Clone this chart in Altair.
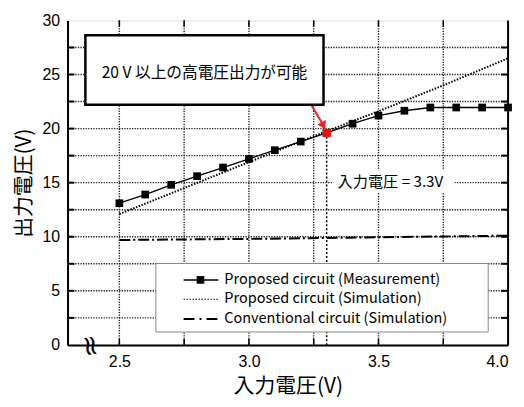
import altair as alt
import pandas as pd

# ---- data ----
vin_meas = [2.5, 2.6, 2.7, 2.8, 2.9, 3.0, 3.1, 3.2, 3.3, 3.4, 3.5, 3.6, 3.7, 3.8, 3.9, 4.0]
vout_meas = [13.1, 13.9, 14.8, 15.6, 16.4, 17.2, 18.0, 18.8, 19.6, 20.45, 21.2, 21.65, 21.95, 21.95, 21.95, 21.95]
vin_sim = [2.5, 2.75, 3.0, 3.25, 3.5, 3.75, 4.0]
vout_sim = [12.1, 14.5, 16.9, 19.3, 21.6, 24.0, 26.5]
vin_conv = [2.5, 3.0, 3.5, 4.0]
vout_conv = [9.7, 9.8, 9.95, 10.1]
x_ticks = [2.5, 2.75, 3.0, 3.25, 3.5, 3.75, 4.0]
y_ticks = [0, 2.5, 5, 7.5, 10, 12.5, 15, 17.5, 20, 22.5, 25, 27.5, 30]
legend_labels = ["Proposed circuit (Measurement)", "Proposed circuit (Simulation)",
                 "Conventional circuit (Simulation)"]
callout_text = "20 V 以上の高電圧出力が可能"
vline_label = "入力電圧 = 3.3V"
highlight = (3.3, 19.6)

W, H = 444, 327
JP = "Noto Sans CJK JP"
LAT = "Liberation Sans"
X0, X1, Y0, Y1 = 2.3, 4.0, 0, 30

xs = alt.Scale(domain=[X0, X1], nice=False, zero=False)
ys = alt.Scale(domain=[Y0, Y1], nice=False, zero=False)

xaxis = alt.Axis(values=x_ticks, labelExpr="datum.value % 0.5 == 0 ? format(datum.value, '.1f') : ''",
                 title="入力電圧(V)", grid=False, ticks=False, domainColor="black", domainWidth=2,
                 labelFont=LAT, labelFontSize=16, labelColor="black", labelPadding=9,
                 titleFont=JP, titleFontSize=21, titleFontWeight="normal", titleColor="black",
                 titlePadding=6)
yaxis = alt.Axis(values=y_ticks, labelExpr="datum.value % 5 == 0 ? datum.value : ''",
                 title="出力電圧(V)", grid=False, ticks=False, domainColor="black", domainWidth=2,
                 labelFont=LAT, labelFontSize=16, labelColor="black", labelPadding=8,
                 titleFont=JP, titleFontSize=21, titleFontWeight="normal", titleColor="black",
                 titlePadding=8)


def X(f="x:Q"):
    return alt.X(f, scale=xs, axis=xaxis)


def Y(f="y:Q"):
    return alt.Y(f, scale=ys, axis=yaxis)


meas = pd.DataFrame({"x": vin_meas, "y": vout_meas})
sim = pd.DataFrame({"x": vin_sim, "y": vout_sim})
conv = pd.DataFrame({"x": vin_conv, "y": vout_conv})
one = pd.DataFrame({"a": [0]})

base_axes = alt.Chart(pd.DataFrame({"x": [X0], "y": [Y0]})).mark_point(opacity=0).encode(x=X(), y=Y())

# dotted grid from the tick lists
gx_vals = x_ticks[:-1]
gy_vals = y_ticks[1:-1]
tx = pd.DataFrame({"x": gx_vals})
ty = pd.DataFrame({"y": gy_vals})
grid_x = alt.Chart(tx).mark_rule(color="#222", strokeWidth=1.4, strokeDash=[1.3, 1.3]).encode(
    x=X(), y=alt.value(0), y2=alt.value(H))
grid_y = alt.Chart(ty).mark_rule(color="#222", strokeWidth=1.4, strokeDash=[1.3, 1.3]).encode(
    y=Y(), x=alt.value(0), x2=alt.value(W))

# inward ticks
ticks = alt.layer(
    alt.Chart(tx).mark_rule(color="black", strokeWidth=1.5).encode(x=X(), y=alt.value(0), y2=alt.value(6)),
    alt.Chart(tx).mark_rule(color="black", strokeWidth=1.5).encode(x=X(), y=alt.value(H - 6), y2=alt.value(H)),
    alt.Chart(ty).mark_rule(color="black", strokeWidth=2).encode(y=Y(), x=alt.value(0), x2=alt.value(7)),
    alt.Chart(ty).mark_rule(color="black", strokeWidth=2).encode(y=Y(), x=alt.value(W - 7), x2=alt.value(W)),
)
right_border = alt.Chart(pd.DataFrame({"x": [X1]})).mark_rule(color="black", strokeWidth=2).encode(
    x=X(), y=alt.value(0), y2=alt.value(H))

# series
sim_line = alt.Chart(sim).mark_line(color="black", strokeWidth=2, strokeDash=[1.5, 1.5]).encode(x=X(), y=Y())
conv_line = alt.Chart(conv).mark_line(color="black", strokeWidth=2, strokeDash=[11, 3, 2, 3]).encode(x=X(), y=Y())
meas_line = alt.Chart(meas).mark_line(color="black", strokeWidth=1.3).encode(x=X(), y=Y())
meas_pts = alt.Chart(meas).mark_point(shape="square", filled=True, color="black", size=60, opacity=1).encode(
    x=X(), y=Y())

hl = pd.DataFrame({"x": [highlight[0]], "y": [highlight[1]]})
vline = alt.Chart(hl).mark_rule(color="black", strokeWidth=1.5, strokeDash=[2, 2]).encode(
    x=X(), y=Y(), y2=alt.datum(0))
red_pt = alt.Chart(hl).mark_point(shape="square", filled=True, color="#ee1111", size=70, opacity=1).encode(
    x=X(), y=Y())

# arrow
arrow = alt.Chart(pd.DataFrame({"x": [3.24], "y": [22.2], "x2": [3.285], "y2": [20.4]})).mark_rule(
    color="#ee2222", strokeWidth=2).encode(x=X(), y=Y(), x2="x2:Q", y2="y2:Q")
arrow_head = alt.Chart(pd.DataFrame({"x": [3.288], "y": [20.25]})).mark_point(
    shape="triangle-down", filled=True, color="#ee2222", size=90, angle=331, opacity=1).encode(x=X(), y=Y())

# callout box
callout_box = alt.Chart(one).mark_rect(fill="white", stroke="black", strokeWidth=2.5).encode(
    x=alt.value(18), x2=alt.value(258), y=alt.value(15), y2=alt.value(85))
callout = alt.Chart(pd.DataFrame({"t": [callout_text]})).mark_text(
    font=JP, fontSize=15.8, color="black", align="center", baseline="middle").encode(
    x=alt.value(138), y=alt.value(53), text="t:N")

# vline label
lbl_bg = alt.Chart(one).mark_rect(fill="white").encode(
    x=alt.value(268), x2=alt.value(390), y=alt.value(151), y2=alt.value(173))
lbl = alt.Chart(pd.DataFrame({"x": [3.342], "y": [15.1], "t": [vline_label]})).mark_text(
    font=JP, fontSize=15.3, color="black", align="left", baseline="middle").encode(
    x=X(), y=Y(), text="t:N")

# axis break mark
brk = alt.Chart(pd.DataFrame({"x": [2.385], "y": [-0.1], "t": ["≈"]})).mark_text(
    font="DejaVu Sans", fontSize=28, fontWeight="normal", color="black", angle=80,
    align="center", baseline="middle").encode(x=X(), y=Y(), text="t:N")

# manual legend
leg_box = alt.Chart(one).mark_rect(fill="white", stroke="#888", strokeWidth=1).encode(
    x=alt.value(89), x2=alt.value(424), y=alt.value(245), y2=alt.value(314))
rows_y = [261.5, 281, 301]
leg_l1 = alt.Chart(one).mark_rule(color="black", strokeWidth=1.5).encode(
    x=alt.value(117), x2=alt.value(152), y=alt.value(rows_y[0]))
leg_p1 = alt.Chart(one).mark_point(shape="square", filled=True, color="black", size=60, opacity=1).encode(
    x=alt.value(134), y=alt.value(rows_y[0]))
leg_l2 = alt.Chart(one).mark_rule(color="black", strokeWidth=1, strokeDash=[1.5, 1.5]).encode(
    x=alt.value(117), x2=alt.value(152), y=alt.value(rows_y[1]))
leg_l3 = alt.Chart(one).mark_rule(color="black", strokeWidth=2, strokeDash=[11, 5, 2, 5]).encode(
    x=alt.value(117), x2=alt.value(152), y=alt.value(rows_y[2]))
leg_txts = [
    alt.Chart(pd.DataFrame({"t": [lab]})).mark_text(
        font=JP, fontSize=14.6, color="black", align="left", baseline="middle").encode(
        x=alt.value(158), y=alt.value(ry), text="t:N")
    for lab, ry in zip(legend_labels, rows_y)
]

chart = alt.layer(
    base_axes, grid_x, grid_y, sim_line, conv_line, meas_line, meas_pts, vline, red_pt,
    arrow, arrow_head, callout_box, callout, lbl_bg, lbl, brk,
    ticks, right_border,
    leg_box, leg_l1, leg_p1, leg_l2, leg_l3, *leg_txts,
).properties(
    width=W, height=H,
    autosize=alt.AutoSizeParams(type="none"),
    padding={"left": 60, "top": 11, "right": 8, "bottom": 53},
).configure_view(stroke="#999", strokeWidth=1.5).configure(background="white")

chart.save("out.html", embed_options={"renderer": "svg", "actions": False})
